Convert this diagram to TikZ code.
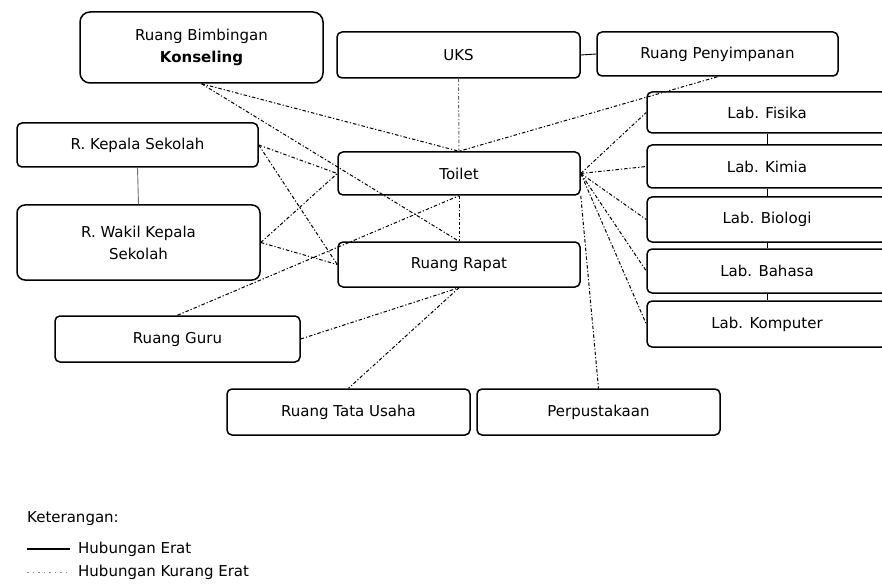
\documentclass[tikz,border=0pt]{standalone}
\usepackage{fontspec}
\setmainfont{DejaVu Sans}
\begin{document}
\begin{tikzpicture}[x=1pt,y=-1pt,
  room/.style={draw=black, line width=1.5pt, rounded corners=5pt, fill=white,
    align=center, inner sep=2pt, font=\fontsize{15}{22}\selectfont},
  lab/.style={room, minimum width=240pt},
  close/.style={draw=black, line width=0.9pt},
  loose/.style={draw=black, line width=1pt, dash pattern=on 3.5pt off 2pt on 1.2pt off 2pt},
  legendtext/.style={anchor=west, inner sep=0pt, font=\fontsize{15}{18}\selectfont}]
\useasboundingbox (0,0) rectangle (882,585);
\clip (0,0) rectangle (882,585);
\fill[white] (0,0) rectangle (882,585);

% rooms
\node[room, rounded corners=10pt, minimum width=243pt, minimum height=71pt] (bk) at (201.5,47.5)
  {Ruang Bimbingan\\\textbf{Konseling}};
\node[room, minimum width=243pt, minimum height=46pt] (uks) at (458.5,55) {UKS};
\node[room, minimum width=241pt, minimum height=44pt] (simpan) at (717.5,54) {Ruang Penyimpanan};
\node[room, minimum width=241pt, minimum height=44pt] (kepala) at (137.5,145) {R. Kepala Sekolah};
\node[room, rounded corners=8pt, minimum width=243pt, minimum height=75pt] (wakil) at (138.5,242.5)
  {R. Wakil Kepala\\Sekolah};
\node[room, minimum width=242pt, minimum height=43pt] (toilet) at (459,173.5) {Toilet};
\node[room, minimum width=242pt, minimum height=45pt] (rapat) at (459,264.5) {Ruang Rapat};
\node[room, minimum width=245pt, minimum height=46pt] (guru) at (177.5,339) {Ruang Guru};
\node[lab, minimum height=41pt] (fisika) at (767,112.5) {Lab. Fisika};
\node[lab, minimum height=43pt] (kimia) at (767,166.5) {Lab. Kimia};
\node[lab, minimum height=45pt] (biologi) at (767,219.5) {Lab. Biologi};
\node[lab, minimum height=44pt] (bahasa) at (767,271) {Lab. Bahasa};
\node[lab, minimum height=46pt] (komputer) at (767,324) {Lab. Komputer};
\node[room, minimum width=243pt, minimum height=46pt] (tu) at (348.5,412) {Ruang Tata Usaha};
\node[room, minimum width=243pt, minimum height=46pt] (perpus) at (598.5,412) {Perpustakaan};

% close relations
\draw[close, draw=black!55] (kepala.south) -- (wakil.north);
\draw[close] (uks.east) -- (simpan.west);
\draw[close] (fisika.south) -- (kimia.north);
\draw[close] (kimia.south) -- (biologi.north);
\draw[close] (biologi.south) -- (bahasa.north);
\draw[close] (bahasa.south) -- (komputer.north);

% less close relations
\draw[loose, draw=black!60] (uks.south) -- (toilet.north);
\draw[loose] (toilet.south) -- (rapat.north);
\draw[loose] (bk.south) -- (toilet.north);
\draw[loose] (bk.south) -- (rapat.north);
\draw[loose] (simpan.south) -- (toilet.north);
\draw[loose] (kepala.east) -- (toilet.west);
\draw[loose] (kepala.east) -- (rapat.west);
\draw[loose] (wakil.east) -- (toilet.west);
\draw[loose] (wakil.east) -- (rapat.west);
\draw[loose] (guru.north) -- (toilet.south);
\draw[loose] (guru.east) -- (rapat.south);
\draw[loose] (rapat.south) -- (tu.north);
\draw[loose] (toilet.south east) -- (perpus.north);
\draw[loose] (toilet.east) -- (fisika.west);
\draw[loose] (toilet.east) -- (kimia.west);
\draw[loose] (toilet.east) -- (biologi.west);
\draw[loose] (toilet.east) -- (bahasa.west);
\draw[loose] (toilet.east) -- (komputer.west);

% legend
\node[legendtext] (ket) at (27,519) {Keterangan:};
\coordinate (erata) at (27,549);
\coordinate (eratb) at (70,549);
\coordinate (kuranga) at (27,572);
\coordinate (kurangb) at (70,572);
\draw[black, line width=1.3pt] (erata) -- (eratb);
\draw[black!45, line width=1pt, dash pattern=on 1.5pt off 4pt] (kuranga) -- (kurangb);
\node[legendtext] (erat) at (78,549) {Hubungan Erat};
\node[legendtext] (kurang) at (78,572) {Hubungan Kurang Erat};
\end{tikzpicture}
\end{document}
